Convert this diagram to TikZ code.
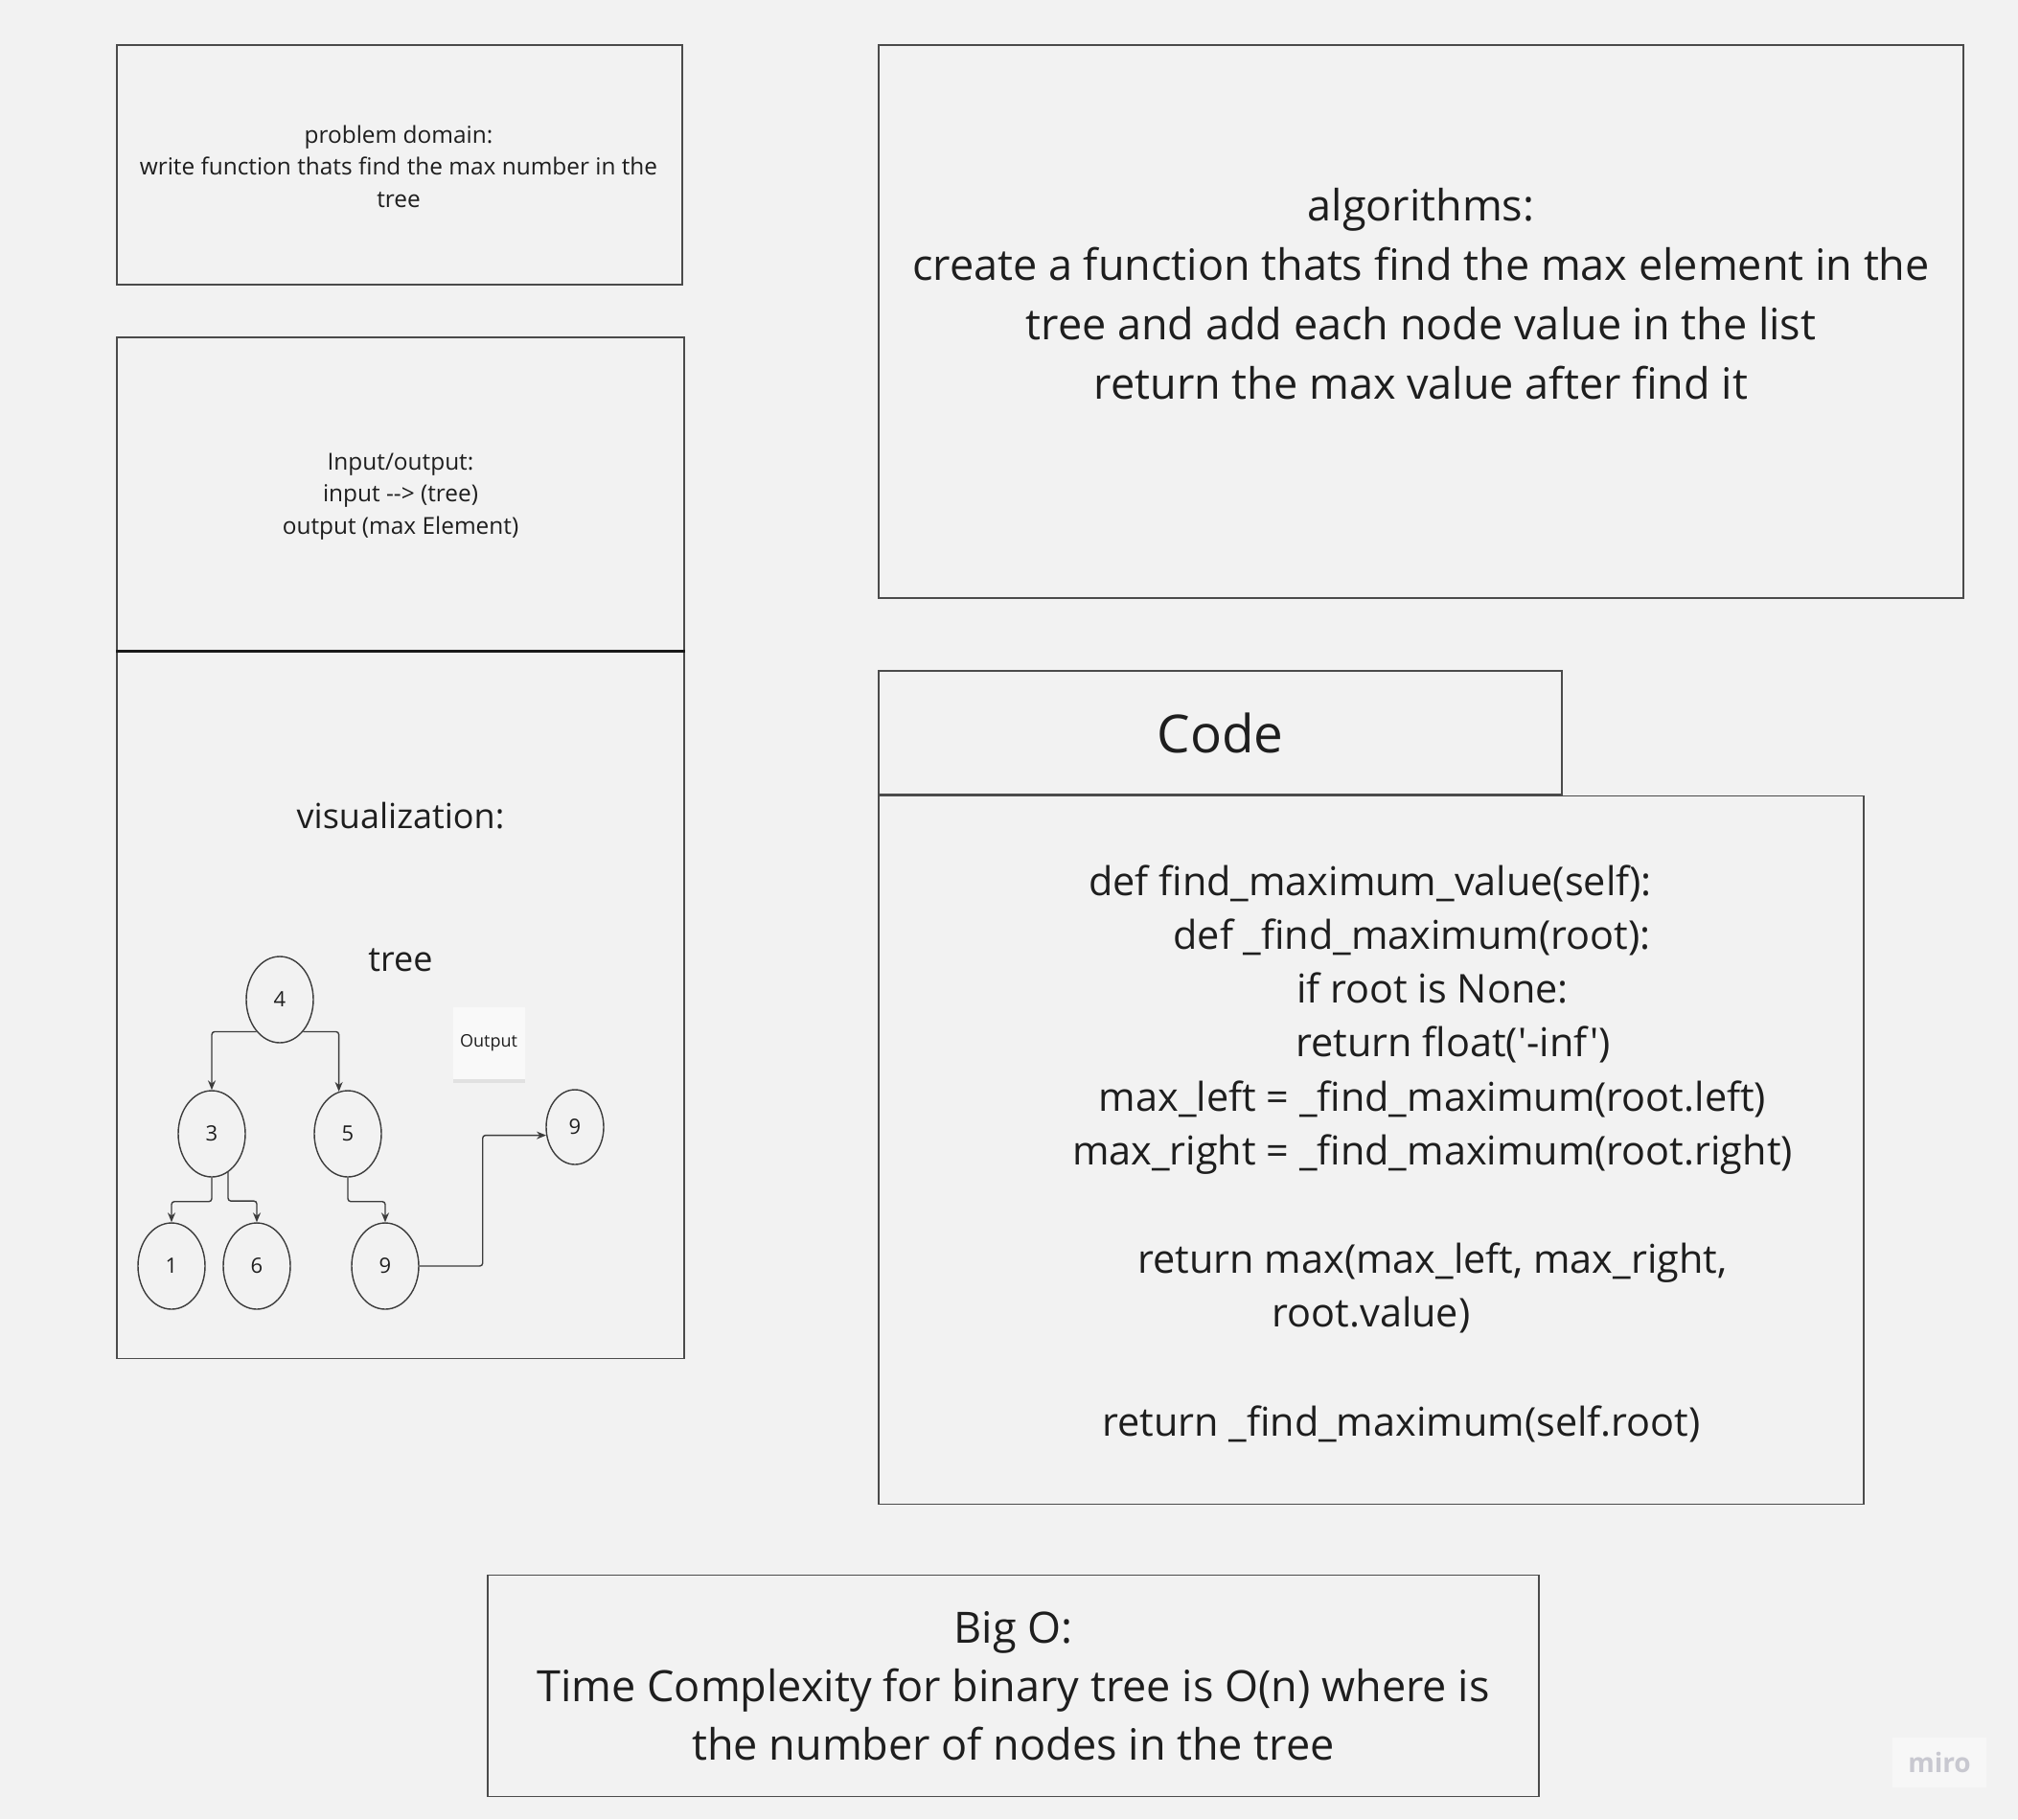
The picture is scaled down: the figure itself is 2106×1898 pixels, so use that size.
\documentclass[tikz,border=0pt]{standalone}
\usepackage{fontspec}
\setmainfont{Open Sans}[Ligatures=TeXOff]
\usepackage{tikz}
\usetikzlibrary{shapes,arrows.meta,positioning,shadows}

\definecolor{bgcolor}{RGB}{242,242,242}
\definecolor{inkcolor}{RGB}{30,30,30}
\definecolor{framecolor}{RGB}{75,75,75}
\definecolor{linecolor}{RGB}{60,60,60}
\definecolor{mirocolor}{RGB}{200,200,208}

\begin{document}
\begin{tikzpicture}[
    x=1pt, y=-1pt,
    panel/.style={rectangle, draw=framecolor, line width=1.5pt, inner sep=0pt, text=inkcolor},
    small_txt/.style={align=center, text=inkcolor, font=\fontsize{24.4}{33.5}\selectfont},
    big_txt/.style={align=center, text=inkcolor, font=\fontsize{45}{62}\selectfont},
    code_txt/.style={text=inkcolor, inner sep=0pt, font=\fontsize{41.4}{56.4}\selectfont},
    title_txt/.style={text=inkcolor, font=\fontsize{36}{44}\selectfont},
    tree_node/.style={ellipse, draw=linecolor, line width=1.4pt, minimum width=70pt, minimum height=90pt, inner sep=0pt, text=inkcolor, font=\fontsize{22}{26}\selectfont},
    arrow/.style={line width=1.4pt, draw=linecolor, rounded corners=3pt, -{Stealth[length=10pt, width=8pt]}},
    divider/.style={line width=2.6pt, draw=black!90}
]

% Canvas
\path[fill=bgcolor, use as bounding box] (0,0) rectangle (2106,1898);

% Left column
\node[panel, minimum width=590pt, minimum height=250pt] (problem) at (417,172) {};
\node[small_txt] (problem_txt) at (416,173.5) {problem domain:\\ write function thats find the max number in the\\ tree};

\node[panel, minimum width=592pt, minimum height=327pt] (io) at (418,515.5) {};
\node[small_txt] (io_txt) at (418,518) {Input/output:\\ input --> (tree)\\ output (max Element)};

\node[panel, anchor=north west, minimum width=592pt, minimum height=737pt] (vis) at (io.south west) {};
\draw[divider] (io.south west) -- (io.south east);
\node[title_txt] (vis_txt) at (418,851) {visualization:};
\node[title_txt] (tree_txt) at (418,1002) {tree};

% Tree
\node[tree_node] (n4) at (292,1043) {4};
\node[tree_node] (n3) at (221,1183) {3};
\node[tree_node] (n5) at (363,1183) {5};
\node[tree_node] (n1) at (179,1321) {1};
\node[tree_node] (n6) at (268,1321) {6};
\node[tree_node] (n9) at (402,1321) {9};
\node[tree_node, minimum width=60pt, minimum height=78pt] (n9r) at (600,1176) {9};

\node[rectangle, fill=white!55!bgcolor, minimum width=75pt, minimum height=75pt, text=inkcolor,
      font=\fontsize{18}{22}\selectfont,
      drop shadow={shadow xshift=0pt, shadow yshift=-4pt, opacity=0.15}] (out_note) at (510,1088) {Output};

\draw[arrow] (n4.234) -| (n3.north);
\draw[arrow] (n4.306) -| (n5.102);
\draw[arrow] (n3.south) -- ++(0,25) -| (n1.north);
\draw[arrow] (n3.293) -- ++(0,30) -| (n6.north);
\draw[arrow] (n5.south) -- ++(0,25) -| (n9.north);
\draw[arrow] (n9.east) -- ++(66,0) |- (n9r.196);

% Right column
\node[panel, minimum width=1132pt, minimum height=577pt] (algo) at (1483,335.5) {};
\node[big_txt] (algo_txt) at (1483,307) {algorithms:\\ create a function thats find the max element in the\\ tree and add each node value in the list\\ return the max value after find it};

\node[panel, minimum width=713pt, minimum height=129pt, font=\fontsize{54.8}{60}\selectfont] (code_head) at (1273.5,764.5) {Code};
\node[panel, anchor=north west, minimum width=1028pt, minimum height=739pt] (code_box) at (code_head.south west) {};

\foreach \i/\cx/\cy/\txt in {
    1/1430/923/{def find\_maximum\_value(self):},
    2/1473.5/979/{def \_find\_maximum(root):},
    3/1495/1035/{if root is None:},
    4/1516.5/1091/{return float('-inf')},
    5/1495/1148/{max\_left = \_find\_maximum(root.left)},
    6/1495/1204/{max\_right = \_find\_maximum(root.right)},
    7/1495/1317/{return max(max\_left, max\_right,},
    8/1431/1373/{root.value)},
    9/1462.5/1487/{return \_find\_maximum(self.root)}}
  \node[code_txt] (code\i) at (\cx,\cy) {\strut\txt};

% Bottom
\node[panel, minimum width=1097pt, minimum height=231pt, align=center, font=\fontsize{45}{61}\selectfont] (big_o) at (1057.5,1759) {Big O:\\ Time Complexity for binary tree is O(n) where is\\ the number of nodes in the tree};

\node[rectangle, fill=white!40!bgcolor, minimum width=98pt, minimum height=52pt, text=mirocolor,
      font=\bfseries\fontsize{28}{30}\selectfont] (miro) at (2024,1839) {miro};

\end{tikzpicture}
\end{document}
